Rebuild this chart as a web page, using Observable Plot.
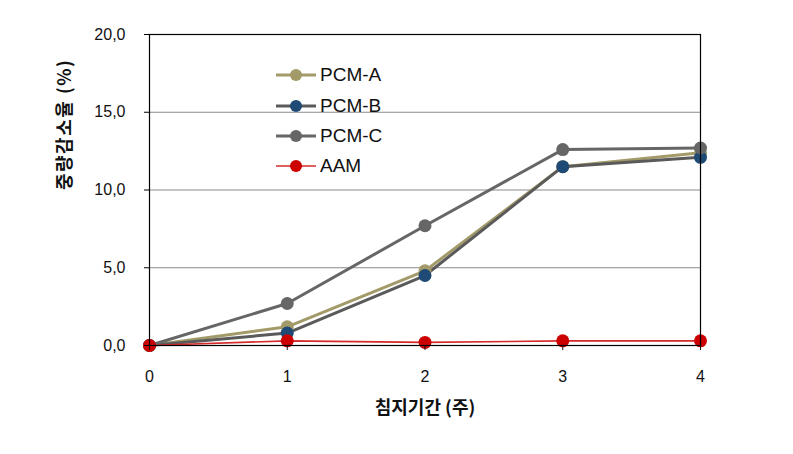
<!DOCTYPE html>
<html><head><meta charset="utf-8">
<script src="https://cdn.jsdelivr.net/npm/d3@7"></script>
<script src="https://cdn.jsdelivr.net/npm/@observablehq/plot@0.6"></script>
<style>
body{margin:0;background:#fff;}
#wrap{position:relative;width:793px;height:454px;}
#legend{position:absolute;left:276px;top:60px;font-family:"Liberation Sans",Arial,sans-serif;font-size:19px;color:#111;}
.row{display:flex;align-items:center;height:30.4px;}
.row svg{margin-right:4px;}
.ylab text{letter-spacing:1.5px;}
</style>
</head><body>
<div id="wrap"><div id="legend"></div></div>
<script>
const weeks = [0, 1, 2, 3, 4];
const seriesNames = ["PCM-A", "PCM-B", "PCM-C", "AAM"];
const pcmA = [0, 1.2, 4.8, 11.5, 12.4];
const pcmB = [0, 0.8, 4.5, 11.5, 12.1];
const pcmC = [0, 2.7, 7.7, 12.6, 12.7];
const aam  = [0, 0.3, 0.2, 0.3, 0.3];
const yTicks = [0, 5, 10, 15, 20];
const xLabel = "침지기간 (주)";
const yLabel = "중량감소율 (%)";

const styles = {
  "PCM-A": {line: "#a39a6a", fill: "#a39a6a", w: 3},
  "PCM-B": {line: "#5a5a5a", fill: "#1f4a75", w: 3},
  "PCM-C": {line: "#666666", fill: "#666666", w: 3},
  "AAM":   {line: "#d42a2a", fill: "#cc0000", w: 1.6}
};
const valuesBy = {"PCM-A": pcmA, "PCM-B": pcmB, "PCM-C": pcmC, "AAM": aam};
const rows = s => weeks.map((w, i) => ({week: w, value: valuesBy[s][i], series: s}));

const marks = [
  Plot.ruleY([5, 10, 15], {stroke: "#8a8a8a", strokeWidth: 1}),
];
for (const s of seriesNames) {
  const st = styles[s];
  marks.push(Plot.line(rows(s), {x: "week", y: "value", stroke: st.line, strokeWidth: st.w}));
}
for (const s of seriesNames) {
  const st = styles[s];
  marks.push(Plot.dot(rows(s), {x: "week", y: "value", r: 6.5, fill: st.fill, stroke: "none"}));
}
marks.push(
  Plot.frame({stroke: "#000", strokeWidth: 1.2}),
  Plot.axisY({ticks: yTicks, tickFormat: d => d.toFixed(1).replace(".", ","), tickSize: 5, tickPadding: 19, label: null, fontSize: 16, stroke: "#000"}),
  Plot.axisX({ticks: weeks, tickFormat: d => String(d), tickSize: 5, tickPadding: 20, label: null, fontSize: 16}),
  Plot.text([yLabel], {frameAnchor: "left", dx: -84, rotate: -90, text: d => d, fontSize: 18, fontWeight: "bold", fill: "#111", className: "ylab", fontFamily: "'Noto Sans CJK KR', sans-serif"}),
  Plot.text([xLabel], {frameAnchor: "bottom", dy: 68, text: d => d, fontSize: 18, fontWeight: "bold", fill: "#111", fontFamily: "'Noto Sans CJK KR', sans-serif"})
);

const chart = Plot.plot({
  width: 793, height: 454,
  marginLeft: 149, marginRight: 93, marginTop: 34, marginBottom: 109,
  x: {domain: [0, 4]},
  y: {domain: [0, 20]},
  style: {fontFamily: "'Liberation Sans', 'Noto Sans CJK KR', sans-serif", color: "#111", background: "#fff"},
  marks
});
document.getElementById("wrap").prepend(chart);

const legend = document.getElementById("legend");
for (const s of seriesNames) {
  const st = styles[s];
  const row = document.createElement("div");
  row.className = "row";
  row.innerHTML = `<svg width="40" height="14"><line x1="0" x2="40" y1="7" y2="7" stroke="${st.line}" stroke-width="${st.w}"/><circle cx="20" cy="7" r="6" fill="${st.fill}"/></svg><span>${s}</span>`;
  legend.appendChild(row);
}
</script>
</body></html>
